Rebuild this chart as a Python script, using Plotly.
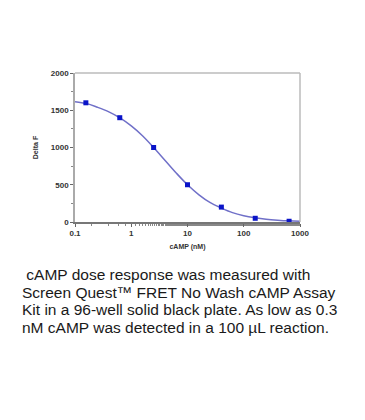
import plotly.graph_objects as go

# measured data points
conc_nM = [0.156, 0.625, 2.5, 10, 40, 160, 640]
delta_f = [1600, 1400, 1000, 500, 200, 50, 10]

# fitted curve
curve_x = [0.1, 0.16, 0.25, 0.4, 0.63, 1, 1.6, 2.5, 4, 6.3, 10, 16, 25, 40, 63,
           100, 160, 250, 400, 630, 1000]
curve_y = [1615, 1590, 1540, 1478, 1397, 1290, 1155, 1000, 826, 658, 500, 365, 263,
           188, 126, 85, 57, 38, 25, 16, 11]

x_ticks = [0.1, 1, 10, 100, 1000]
x_tick_labels = ["0.1", "1", "10", "100", "1000"]
y_ticks = [0, 500, 1000, 1500, 2000]
y_tick_labels = ["0", "500", "1000", "1500", "2000"]

caption_lines = [
    " cAMP dose response was measured with",
    "Screen Quest™ FRET No Wash cAMP Assay",
    "Kit in a 96-well solid black plate. As low as 0.3",
    "nM cAMP was detected in a 100 µL reaction.",
]

OFF = 8  # page body margin
L, R, T, B = 75 - OFF, 300 - OFF, 73 - OFF, 222 - OFF
W, H = 365 - OFF, 420 - OFF

fig = go.Figure()
fig.add_trace(go.Scatter(x=curve_x, y=curve_y, mode="lines",
                         line=dict(color="#7070c8", width=1.5, shape="spline", smoothing=1),
                         hoverinfo="skip", showlegend=False))
fig.add_trace(go.Scatter(x=conc_nM, y=delta_f, mode="markers",
                         marker=dict(symbol="square", size=5, color="#0a14c8"),
                         showlegend=False))

tick_font = dict(family="Liberation Sans, Arial, sans-serif", size=8, color="#333")
title_font = dict(family="Liberation Sans, Arial, sans-serif", size=7, color="#333")
fig.update_xaxes(type="log", range=[-1, 3], tickvals=x_ticks,
                 ticktext=["<b>%s</b>" % t for t in x_tick_labels],
                 ticks="outside", ticklen=3, tickcolor="#666", tickfont=tick_font,
                 minor=dict(ticks="outside", ticklen=2, tickcolor="#888"),
                 showline=True, linecolor="#777", linewidth=1.5, mirror=False,
                 showgrid=False, zeroline=False,
                 title=dict(text="<b>cAMP (nM)</b>", font=title_font, standoff=7))
fig.update_yaxes(range=[0, 2000], tickvals=y_ticks,
                 ticktext=["<b>%s</b>" % t for t in y_tick_labels],
                 ticks="outside", ticklen=3,
                 tickcolor="#666", tickfont=tick_font,
                 minor=dict(ticks="outside", ticklen=2, tickcolor="#888", dtick=250),
                 showline=True, linecolor="#aaa", linewidth=1.5, mirror=False,
                 showgrid=False, zeroline=False,
                 title=dict(text="<b>Delta F</b>", font=title_font, standoff=11))

# top and right frame lines
fig.add_shape(type="line", xref="paper", yref="paper", x0=0, x1=1, y0=1, y1=1,
              line=dict(color="#bbb", width=1.5))
fig.add_shape(type="line", xref="paper", yref="paper", x0=1, x1=1, y0=0, y1=1,
              line=dict(color="#bbb", width=1.5))

baselines = [280, 298, 315.5, 333]
fs = 15.5
for line, bl in zip(caption_lines, baselines):
    cy = bl - OFF - 0.36 * fs
    fig.add_annotation(text=line, xref="paper", yref="paper",
                       x=(20 - OFF - L) / (R - L), y=(B - cy) / (B - T),
                       xanchor="left", yanchor="middle", showarrow=False,
                       font=dict(family="Liberation Sans, Arial, sans-serif", size=fs, color="#1a1a1a"))

fig.update_layout(width=W, height=H, margin=dict(l=L, r=W - R, t=T, b=H - B),
                  paper_bgcolor="white", plot_bgcolor="white")
fig.write_html("out.html")
